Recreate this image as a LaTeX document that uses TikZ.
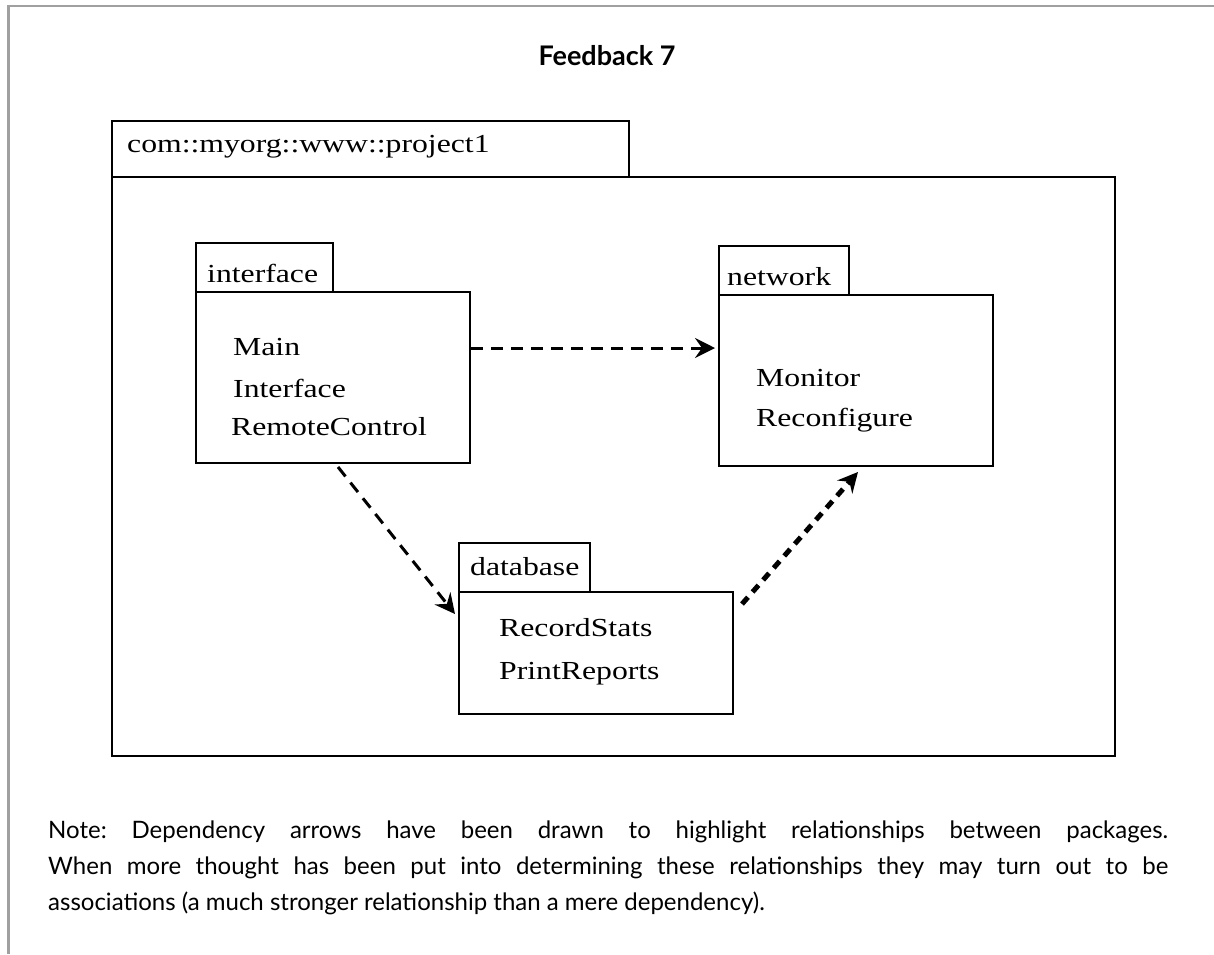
\documentclass[tikz,border=0pt]{standalone}
\usepackage{fontspec}
\setmainfont{Liberation Serif}
\newfontfamily\boxfont[FakeStretch=1.22]{Liberation Serif}
\newfontfamily\notefont{Lato}
\usetikzlibrary{arrows.meta,calc}
\definecolor{framegray}{HTML}{A0A0A0}
\frenchspacing
\begin{document}
\begin{tikzpicture}[x=1pt,y=-1pt,
  pkgbox/.style={draw,line width=2pt,inner sep=0pt,outer sep=0pt,anchor=north west},
  lbl/.style={font=\boxfont\fontsize{26}{30}\selectfont,inner sep=0pt,anchor=base west},
  dep/.style={line width=3pt,dash pattern=on 12pt off 8pt,
    -{Stealth[length=20pt,width=20pt,inset=7pt]}},
  depthick/.style={line width=5pt,dash pattern=on 9pt off 7pt,
    -{Stealth[length=20pt,width=20pt,inset=7pt]}},
  notetext/.style={font=\notefont\fontsize{24}{28}\selectfont,inner sep=0pt,anchor=base west}]
\useasboundingbox (0,0) rectangle (1214,954);
\fill[white] (0,0) rectangle (1214,954);
% frame
\draw[framegray,line width=2.5pt] (8.5,954) -- (8.5,6) -- (1214,6);
% title
\node[font=\notefont\bfseries\fontsize{27}{32}\selectfont,inner sep=0pt,anchor=base] (title) at (607,65) {Feedback 7};
% outer package
\node[pkgbox,minimum width=517pt,minimum height=56pt] (otab) at (112,121) {};
\node[pkgbox,minimum width=1003pt,minimum height=579pt] (obody) at (112,177) {};
\node[lbl] (oname) at (127,152) {com::myorg::www::project1};
% interface
\node[pkgbox,minimum width=137pt,minimum height=49pt] (itab) at (196,243) {};
\node[pkgbox,minimum width=274pt,minimum height=171pt] (ibody) at (196,292) {};
\node[lbl] (iname) at (207,282) {interface};
\node[lbl] (i1) at (233,355) {Main};
\node[lbl] (i2) at (233,397) {Interface};
\node[lbl] (i3) at (231,435) {RemoteControl};
% network
\node[pkgbox,minimum width=130pt,minimum height=49pt] (ntab) at (719,246) {};
\node[pkgbox,minimum width=274pt,minimum height=171pt] (nbody) at (719,295) {};
\node[lbl] (nname) at (727,285) {network};
\node[lbl] (n1) at (756,386) {Monitor};
\node[lbl] (n2) at (756,426) {Reconfigure};
% database
\node[pkgbox,minimum width=131pt,minimum height=49pt] (dtab) at (459,543) {};
\node[pkgbox,minimum width=274pt,minimum height=122pt] (dbody) at (459,592) {};
\node[lbl] (dname) at (470,575) {database};
\node[lbl] (d1) at (499,636) {RecordStats};
\node[lbl] (d2) at (499,679) {PrintReports};
% connectors
\coordinate (a1s) at ($(ibody.north east)+(1,56)$);
\coordinate (a1e) at ($(nbody.north west)+(-4,53)$);
\coordinate (a2s) at ($(ibody.south west)+(142,4)$);
\coordinate (a2e) at ($(dbody.north west)+(-4,22)$);
\coordinate (a3s) at ($(dbody.north east)+(9,12)$);
\coordinate (a3e) at ($(nbody.south west)+(139,6)$);
\draw[dep] (a1s) -- (a1e);
\draw[dep] (a2s) -- (a2e);
\draw[depthick] (a3s) -- (a3e);
% note
\node[notetext] (note1) at (48,838) {\makebox[1120pt][s]{Note: Dependency arrows have been drawn to highlight relationships between packages.}};
\node[notetext] (note2) at (48,874) {\makebox[1120pt][s]{When more thought has been put into determining these relationships they may turn out to be}};
\node[notetext] (note3) at (48,910) {associations (a much stronger relationship than a mere dependency).};
\end{tikzpicture}
\end{document}
